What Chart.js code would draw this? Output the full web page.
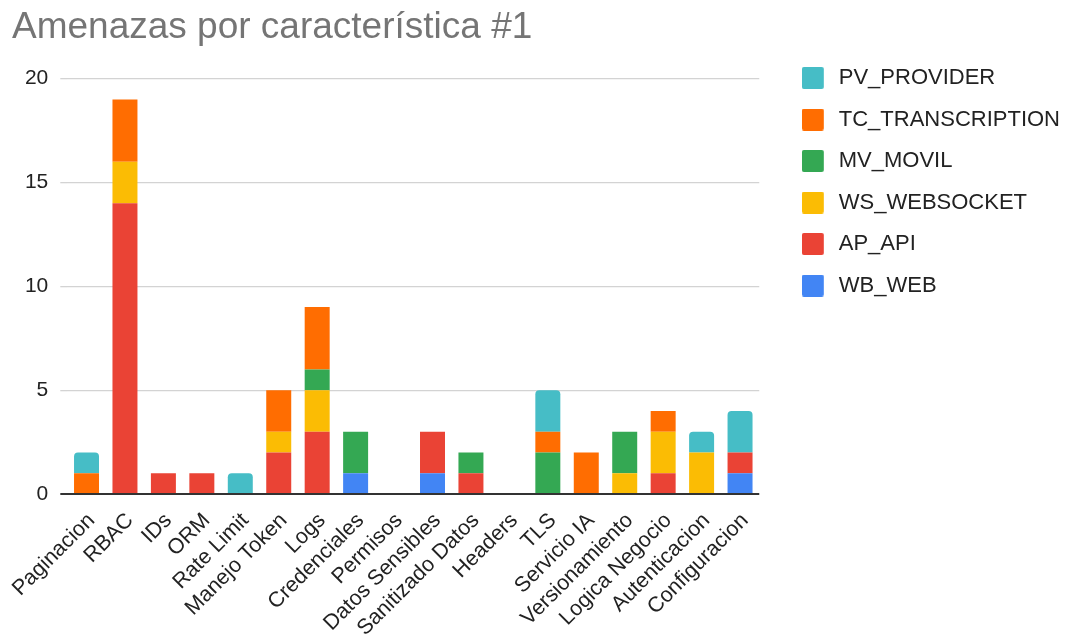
<!DOCTYPE html>
<html>
<head>
<meta charset="utf-8">
<title>Amenazas por característica #1</title>
<script src="https://cdn.jsdelivr.net/npm/chart.js@4.4.1/dist/chart.umd.min.js"></script>
<style>
  html, body { margin: 0; padding: 0; background: #ffffff; }
  #wrap { width: 1070px; height: 639px; position: relative; }
</style>
</head>
<body>
<div id="wrap"><canvas id="chart"></canvas></div>
<script>
// Categories along the x axis
const categories = ['Paginacion', 'RBAC', 'IDs', 'ORM', 'Rate Limit', 'Manejo Token', 'Logs',
  'Credenciales', 'Permisos', 'Datos Sensibles', 'Sanitizado Datos', 'Headers', 'TLS',
  'Servicio IA', 'Versionamiento', 'Logica Negocio', 'Autenticacion', 'Configuracion'];

// Threat counts per component (stacked bottom to top in this order)
const wbWeb           = [0, 0, 0, 0, 0, 0, 0, 1, 0, 1, 0, 0, 0, 0, 0, 0, 0, 1];
const apApi           = [0, 14, 1, 1, 0, 2, 3, 0, 0, 2, 1, 0, 0, 0, 0, 1, 0, 1];
const wsWebsocket     = [0, 2, 0, 0, 0, 1, 2, 0, 0, 0, 0, 0, 0, 0, 1, 2, 2, 0];
const mvMovil         = [0, 0, 0, 0, 0, 0, 1, 2, 0, 0, 1, 0, 2, 0, 2, 0, 0, 0];
const tcTranscription = [1, 3, 0, 0, 0, 2, 3, 0, 0, 0, 0, 0, 1, 2, 0, 1, 0, 0];
const pvProvider      = [1, 0, 0, 0, 1, 0, 0, 0, 0, 0, 0, 0, 2, 0, 0, 0, 1, 2];

// Value axis tick labels
const yTicks = [0, 5, 10, 15, 20];

const FONT = "'Liberation Sans', Arial, Helvetica, sans-serif";
const nz = arr => arr.map(v => (v === 0 ? null : v));

const series = [
  { label: 'WB_WEB',           data: wbWeb,           color: '#4285F4' },
  { label: 'AP_API',           data: apApi,           color: '#EA4335' },
  { label: 'WS_WEBSOCKET',     data: wsWebsocket,     color: '#FBBC04' },
  { label: 'MV_MOVIL',         data: mvMovil,         color: '#34A853' },
  { label: 'TC_TRANSCRIPTION', data: tcTranscription, color: '#FF6D01' },
  { label: 'PV_PROVIDER',      data: pvProvider,      color: '#46BDC6' }
];

// Legend swatch: a 22px rounded square with a little extra room on its right
function swatch(color) {
  const c = document.createElement('canvas');
  c.width = 26;
  c.height = 22;
  const g = c.getContext('2d');
  g.fillStyle = color;
  g.beginPath();
  if (g.roundRect) g.roundRect(0, 0, 22, 22, 2); else g.rect(0, 0, 22, 22);
  g.fill();
  return c;
}

const datasets = series.map((s, i) => ({
  label: s.label,
  data: nz(s.data),
  backgroundColor: s.color,
  borderColor: s.color,
  borderWidth: 0,
  borderSkipped: false,
  borderRadius: i === series.length - 1
    ? { topLeft: 4, topRight: 4, bottomLeft: 0, bottomRight: 0 }
    : 0,
  barPercentage: 0.65,
  categoryPercentage: 1.0
}));

new Chart(document.getElementById('chart'), {
  type: 'bar',
  data: { labels: categories, datasets },
  options: {
    responsive: true,
    maintainAspectRatio: false,
    animation: false,
    layout: { padding: { left: 12, right: 0, top: 0, bottom: 0 } },
    plugins: {
      tooltip: { enabled: false },
      title: {
        display: true,
        text: 'Amenazas por característica #1',
        align: 'start',
        color: '#757575',
        font: { family: FONT, size: 37, weight: 'normal' },
        padding: { top: 6, bottom: 28.3 }
      },
      legend: {
        position: 'right',
        align: 'start',
        reverse: true,
        maxWidth: 320,
        title: { display: true, text: '', font: { size: 10 }, padding: { top: 35.5, bottom: 0 } },
        labels: {
          usePointStyle: true,
          pointStyleWidth: 26,
          boxWidth: 26,
          boxHeight: 22,
          padding: 19.5,
          color: '#222222',
          font: { family: FONT, size: 22 },
          generateLabels: chart => {
            const items = Chart.defaults.plugins.legend.labels.generateLabels(chart);
            items.forEach(it => { it.pointStyle = swatch(series[it.datasetIndex].color); });
            return items;
          }
        }
      }
    },
    scales: {
      x: {
        stacked: true,
        grid: { display: false, drawTicks: false },
        border: { display: false },
        afterFit: scale => {
          scale.height = 145;
          scale.paddingLeft = 0;
          scale.paddingRight = 0;
        },
        ticks: {
          autoSkip: false,
          minRotation: 45,
          maxRotation: 45,
          padding: 14,
          labelOffset: 5,
          color: '#222222',
          font: { family: FONT, size: 21.5 }
        }
      },
      y: {
        stacked: true,
        min: 0,
        max: 20,
        afterBuildTicks: scale => { scale.ticks = yTicks.map(v => ({ value: v })); },
        afterFit: scale => { scale.width = 55.3; },
        border: { display: false },
        grid: {
          drawTicks: true,
          tickLength: 7,
          color: c => (c.tick && c.tick.value === 0 ? '#333333' : '#d3d3d3'),
          tickColor: c => (c.tick && c.tick.value === 0 ? '#333333' : '#d3d3d3'),
          lineWidth: c => (c.tick && c.tick.value === 0 ? 2 : 1.3)
        },
        ticks: {
          padding: 12,
          color: '#222222',
          font: { family: FONT, size: 21 }
        }
      },
      gap: {
        type: 'linear',
        position: 'right',
        display: true,
        grid: { display: false, drawTicks: false },
        border: { display: false },
        ticks: { display: false },
        afterFit: scale => { scale.width = 23; }
      }
    }
  }
});
</script>
</body>
</html>
